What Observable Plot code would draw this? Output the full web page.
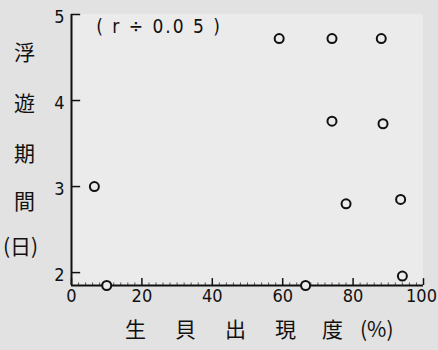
<!DOCTYPE html>
<html>
<head>
<meta charset="utf-8">
<script src="https://cdn.jsdelivr.net/npm/d3@7"></script>
<script src="https://cdn.jsdelivr.net/npm/@observablehq/plot@0.6"></script>
<style>
  html, body { margin: 0; padding: 0; background: #e2e2e2; }
  #wrap { position: relative; width: 438px; height: 350px; overflow: hidden; }
  .lab { position: absolute; font-family: "Noto Sans CJK JP", sans-serif; font-size: 21px; color: #111; line-height: 1; }
</style>
</head>
<body>
<div id="wrap"></div>
<script>
// Data
const occurrence = [6.5, 10, 59, 74, 88, 74, 88.5, 78, 93.5, 66.5, 94];   // 生貝出現度 (%)
const period     = [3.0, 1.85, 4.72, 4.72, 4.72, 3.76, 3.73, 2.80, 2.85, 1.85, 1.96]; // 浮遊期間 (日)
const xTicks = [0, 20, 40, 60, 80, 100];
const yTicks = [2, 3, 4, 5];
const xMinor = [2,4,6,8,10,12,14,16,18,22,24,26,28,30,32,34,36,38,42,44,46,48,50,52,54,56,58,62,64,66,68,70,72,74,76,78,82,84,86,88,90,92,94,96,98];
const yLabelChars = ["浮", "遊", "期", "間", "(日)"];
const xLabelChars = ["生", "貝", "出", "現", "度", "(%)"];
const note = "( r ÷ 0.0 5 )";

const data = occurrence.map((x, i) => ({x, y: period[i]}));

const plot = Plot.plot({
  width: 438,
  height: 350,
  marginLeft: 71,
  marginRight: 15,
  marginTop: 14,
  marginBottom: 65,
  style: {background: "transparent", fontFamily: "'DejaVu Sans Condensed', 'DejaVu Sans', sans-serif", color: "#111"},
  x: {domain: [0, 100]},
  y: {domain: [1.85, 5]},
  marks: [
    Plot.rect([0], {x1: 0, x2: 100, y1: 1.85, y2: 5, fill: "#ebebeb"}),
    Plot.axisX({ticks: xTicks.filter(t => t < 100), tickFormat: "d", tickSize: 0, tickPadding: 4, fontSize: 18, label: null}),
    Plot.axisX({ticks: xTicks.filter(t => t >= 100), tickFormat: "d", tickSize: 0, tickPadding: 4, fontSize: 18, label: null, dx: -2}),
    Plot.axisY({ticks: yTicks, tickFormat: "d", tickSize: 0, tickPadding: 7, fontSize: 18, label: null, dy: 3}),
    // inward major ticks
    Plot.ruleY(yTicks, {x1: 0, x2: 2.6, stroke: "#111", strokeWidth: 1.5}),
    Plot.ruleX(xTicks, {y1: 1.85, y2: 1.93, stroke: "#111", strokeWidth: 1.5}),
    Plot.ruleX(xMinor, {y1: 1.85, y2: 1.88, stroke: "#333", strokeWidth: 0.8}),
    // axis lines
    Plot.ruleX([0], {y1: 1.85, y2: 5, stroke: "#111", strokeWidth: 2}),
    Plot.ruleY([1.85], {x1: 0, x2: 100, stroke: "#111", strokeWidth: 2}),
    Plot.dot(data, {x: "x", y: "y", r: 4.5, stroke: "#111", strokeWidth: 2, fill: "#ebebeb"}),
    Plot.text([note], {x: 7, y: 4.85, text: d => d, textAnchor: "start", fontSize: 19, fill: "#111", className: "note"})
  ]
});
const wrap = document.getElementById("wrap");
wrap.appendChild(plot);
d3.select(plot).selectAll(".note text").style("letter-spacing", "2px");

// Y axis title (vertical characters)
const yPos = [52, 103, 153, 201, 246];
yLabelChars.forEach((c, i) => {
  const d = document.createElement("div");
  d.className = "lab";
  d.textContent = c;
  d.style.left = (c.length > 1 ? 3 : 14) + "px";
  d.style.top = (yPos[i] - 11) + "px";
  wrap.appendChild(d);
});
// X axis title
const xPos = [135, 185, 235, 285, 332, 378];
xLabelChars.forEach((c, i) => {
  const d = document.createElement("div");
  d.className = "lab";
  d.textContent = c;
  d.style.left = (xPos[i] - (c.length > 1 ? 18 : 10)) + "px";
  d.style.top = "318px";
  wrap.appendChild(d);
});
</script>
</body>
</html>
